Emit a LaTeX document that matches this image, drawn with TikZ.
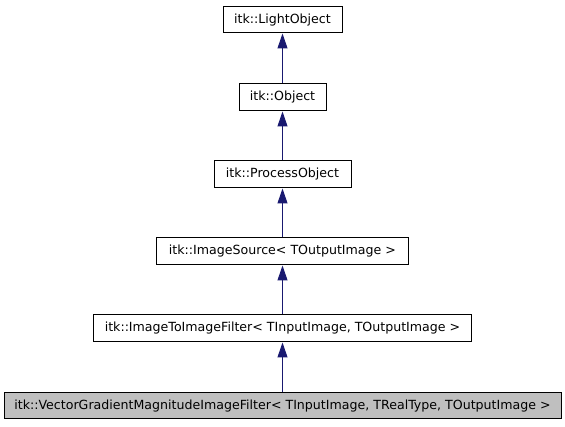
\documentclass[tikz,border=0pt]{standalone}
\usepackage{fontspec}
\setmainfont{DejaVu Sans}
\usetikzlibrary{arrows.meta}
\definecolor{edgeblue}{HTML}{191970}
\begin{document}
\begin{tikzpicture}[x=1pt,y=-1pt,
  cls/.style={draw=black,line width=1pt,fill=white,inner sep=0pt,font=\fontsize{12.6}{14}\selectfont},
  inh/.style={draw=edgeblue,line width=1pt,-{Triangle[length=15pt,width=10pt,fill=edgeblue]}}]
\useasboundingbox (0,0) rectangle (565,427);
\node[cls,minimum width=119pt,minimum height=26pt] (lo) at (282.5,20) {itk::LightObject};
\node[cls,minimum width=87pt,minimum height=27pt] (ob) at (282.5,97.5) {itk::Object};
\node[cls,minimum width=137pt,minimum height=27pt] (po) at (282.5,174.5) {itk::ProcessObject};
\node[cls,minimum width=252pt,minimum height=27pt] (is) at (282.5,251.5) {itk::ImageSource< TOutputImage >};
\node[cls,minimum width=378pt,minimum height=27pt] (ii) at (282.5,328.5) {itk::ImageToImageFilter< TInputImage, TOutputImage >};
\node[cls,fill=black!25,minimum width=557pt,minimum height=26pt] (vg) at (282.5,406) {itk::VectorGradientMagnitudeImageFilter< TInputImage, TRealType, TOutputImage >};
\draw[inh] (ob) -- (lo);
\draw[inh] (po) -- (ob);
\draw[inh] (is) -- (po);
\draw[inh] (ii) -- (is);
\draw[inh] (vg) -- (ii);
\end{tikzpicture}
\end{document}
